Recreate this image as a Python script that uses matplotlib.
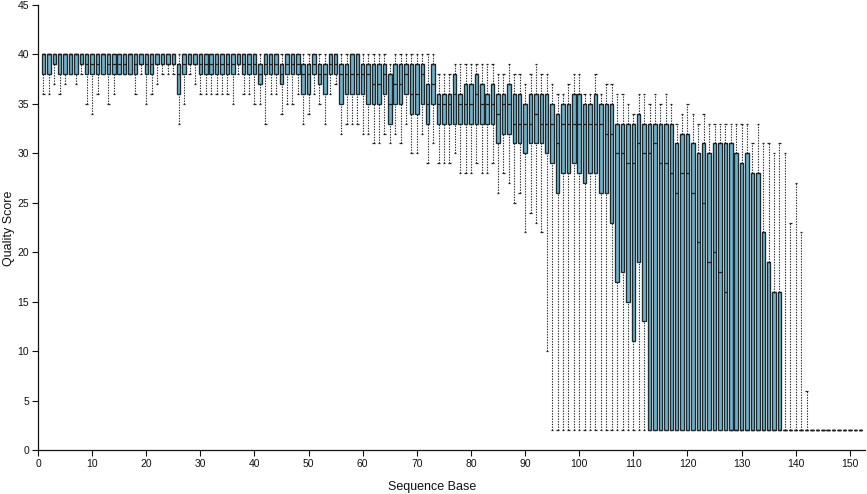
import matplotlib
matplotlib.use("Agg")
import matplotlib.pyplot as plt
import numpy as np

# Per-base quality statistics (bases 1..152)
bases = list(range(1, 153))

upper_whisker = [
    40, 40, 40, 40, 40, 40, 40, 40, 40, 40,
    40, 40, 40, 40, 40, 40, 40, 40, 40, 40,
    40, 40, 40, 40, 40, 40, 40, 40, 40, 40,
    40, 40, 40, 40, 40, 40, 40, 40, 40, 40,
    40, 40, 40, 40, 40, 40, 40, 40, 40, 40,
    40, 40, 40, 40, 40, 40, 40, 40, 40, 40,
    40, 40, 40, 40, 39, 40, 40, 40, 40, 40,
    40, 40, 40, 38, 38, 38, 39, 39, 39, 39,
    39, 39, 39, 39, 38, 38, 39, 38, 38, 37,
    38, 39, 38, 38, 37, 36, 36, 37, 38, 38,
    36, 36, 38, 36, 37, 37, 36, 36, 35, 34,
    36, 36, 35, 36, 35, 36, 35, 33, 34, 35,
    34, 33, 34, 33, 33, 33, 33, 33, 33, 33,
    33, 31, 33, 31, 31, 30, 31, 30, 23, 27,
    22, 6, 2, 2, 2, 2, 2, 2, 2, 2,
    2, 2,
]

q3 = [
    40, 40, 40, 40, 40, 40, 40, 40, 40, 40,
    40, 40, 40, 40, 40, 40, 40, 40, 40, 40,
    40, 40, 40, 40, 40, 39, 40, 40, 40, 40,
    40, 40, 40, 40, 40, 40, 40, 40, 40, 40,
    39, 40, 40, 40, 39, 40, 40, 40, 39, 39,
    40, 39, 39, 40, 40, 39, 39, 40, 40, 39,
    39, 39, 39, 39, 38, 39, 39, 39, 39, 39,
    39, 37, 39, 36, 36, 36, 38, 36, 37, 37,
    38, 37, 36, 37, 36, 36, 37, 36, 36, 35,
    36, 36, 36, 36, 35, 34, 35, 35, 36, 36,
    35, 35, 36, 35, 35, 35, 33, 33, 33, 33,
    34, 33, 33, 33, 33, 33, 33, 31, 32, 32,
    31, 30, 31, 30, 31, 31, 31, 31, 30, 29,
    30, 28, 28, 22, 19, 16, 16, 2, 2, 2,
    2, 2, 2, 2, 2, 2, 2, 2, 2, 2,
    2, 2,
]

median = [
    40, 40, 39, 40, 40, 40, 40, 39, 39, 39,
    39, 40, 39, 39, 39, 39, 40, 39, 39, 39,
    39, 39, 39, 39, 39, 38, 39, 39, 39, 39,
    39, 39, 39, 39, 39, 39, 39, 39, 39, 39,
    38, 39, 39, 39, 38, 39, 39, 39, 38, 38,
    39, 38, 38, 39, 39, 38, 38, 38, 38, 38,
    38, 37, 37, 38, 35, 37, 37, 38, 36, 36,
    38, 35, 37, 35, 35, 35, 36, 35, 35, 35,
    36, 35, 35, 35, 34, 35, 35, 33, 33, 33,
    33, 34, 33, 33, 33, 31, 33, 33, 33, 33,
    33, 33, 33, 33, 32, 32, 30, 30, 29, 29,
    31, 30, 30, 31, 29, 29, 28, 26, 28, 28,
    26, 21, 25, 19, 20, 18, 16, 2, 2, 2,
    2, 2, 2, 2, 2, 2, 2, 2, 2, 2,
    2, 2, 2, 2, 2, 2, 2, 2, 2, 2,
    2, 2,
]

q1 = [
    38, 38, 39, 38, 38, 38, 38, 39, 38, 38,
    38, 38, 38, 38, 38, 38, 38, 38, 39, 38,
    38, 39, 39, 39, 39, 36, 38, 39, 39, 38,
    38, 38, 38, 38, 38, 38, 39, 38, 38, 38,
    37, 38, 38, 38, 37, 38, 38, 38, 36, 36,
    38, 37, 36, 38, 38, 35, 36, 36, 36, 36,
    35, 35, 35, 36, 33, 35, 35, 36, 34, 34,
    35, 33, 35, 33, 33, 33, 33, 33, 33, 33,
    33, 33, 33, 33, 31, 32, 32, 31, 31, 30,
    31, 31, 31, 30, 29, 26, 28, 28, 29, 28,
    27, 28, 28, 26, 26, 23, 17, 18, 15, 11,
    19, 13, 2, 2, 2, 2, 2, 2, 2, 2,
    2, 2, 2, 2, 2, 2, 2, 2, 2, 2,
    2, 2, 2, 2, 2, 2, 2, 2, 2, 2,
    2, 2, 2, 2, 2, 2, 2, 2, 2, 2,
    2, 2,
]

lower_whisker = [
    36, 36, 37, 36, 37, 38, 37, 38, 35, 34,
    36, 38, 35, 36, 38, 38, 38, 36, 38, 35,
    36, 37, 38, 38, 38, 33, 35, 38, 37, 36,
    36, 36, 36, 36, 36, 35, 38, 36, 36, 35,
    35, 33, 36, 36, 34, 35, 35, 36, 33, 34,
    36, 35, 33, 36, 37, 32, 33, 33, 33, 32,
    32, 31, 31, 32, 31, 32, 31, 33, 30, 30,
    32, 29, 31, 29, 29, 29, 30, 28, 28, 28,
    29, 28, 28, 29, 26, 28, 27, 25, 26, 22,
    24, 23, 22, 10, 2, 2, 2, 2, 2, 2,
    2, 2, 2, 2, 2, 2, 2, 2, 2, 2,
    2, 2, 2, 2, 2, 2, 2, 2, 2, 2,
    2, 2, 2, 2, 2, 2, 2, 2, 2, 2,
    2, 2, 2, 2, 2, 2, 2, 2, 2, 2,
    2, 2, 2, 2, 2, 2, 2, 2, 2, 2,
    2, 2,
]

x_ticks = list(range(0, 151, 10))
y_ticks = list(range(0, 46, 5))

plt.rcParams['font.family'] = ['Liberation Sans', 'DejaVu Sans']

fig = plt.figure(figsize=(8.67, 4.94), dpi=100)
ax = fig.add_axes([38 / 867, 1 - 450 / 494, (865 - 38) / 867, (450 - 5) / 494])

x = np.array(bases, dtype=float)
hw = np.array(upper_whisker, dtype=float)
uq = np.array(q3, dtype=float)
md = np.array(median, dtype=float)
lq = np.array(q1, dtype=float)
lw = np.array(lower_whisker, dtype=float)

box_w = 0.64
cap_w = 0.45
wcolor = '#2a2a2a'
dots = (0, (1.2, 1.2))

# whiskers
ax.vlines(x, uq, hw, colors=wcolor, linestyles=dots, linewidth=0.8, zorder=1)
ax.vlines(x, lw, lq, colors=wcolor, linestyles=dots, linewidth=0.8, zorder=1)
# caps
ax.hlines(hw, x - cap_w / 2, x + cap_w / 2, colors='#222222', linewidth=0.9, zorder=2)
ax.hlines(lw, x - cap_w / 2, x + cap_w / 2, colors='#222222', linewidth=0.9, zorder=2)
# boxes
ax.bar(x, uq - lq, bottom=lq, width=box_w, color='#6fb3cc',
       edgecolor='#1e2a2e', linewidth=0.95, zorder=3)
# medians
ax.hlines(md, x - box_w / 2, x + box_w / 2, colors='#1e1e1e', linewidth=0.9, zorder=4)
# flat boxes (all values equal)
ax.hlines(uq, x - box_w / 2, x + box_w / 2, colors='#1e1e1e', linewidth=0.9, zorder=4)

ax.set_xlim(0, 152.8)
ax.set_ylim(0, 45)
ax.set_xticks(x_ticks)
ax.set_yticks(y_ticks)
ax.tick_params(axis='both', direction='out', length=4.5, width=0.8,
               labelsize=7.5, colors='#111111', pad=2)
for s in ['top', 'right']:
    ax.spines[s].set_visible(False)
for s in ['left', 'bottom']:
    ax.spines[s].set_linewidth(0.9)
    ax.spines[s].set_color('#111111')

fig.text(432 / 867, 1 - 487 / 494, 'Sequence Base', ha='center', va='center',
         fontsize=9, color='#111111')
fig.text(9 / 867, 1 - 228 / 494, 'Quality Score', ha='center', va='center',
         rotation=90, fontsize=9, color='#111111')

fig.savefig('out.png', dpi=100)
